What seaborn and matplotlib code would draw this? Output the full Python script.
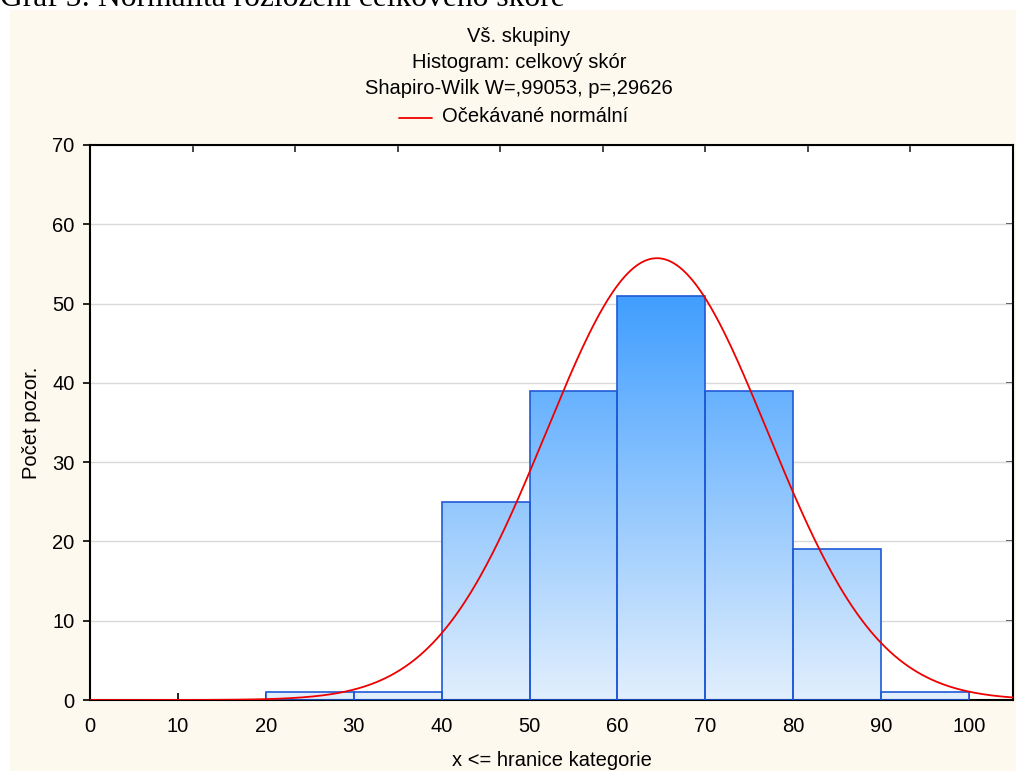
import numpy as np
import pandas as pd
import matplotlib
matplotlib.use("Agg")
import matplotlib.pyplot as plt
import seaborn as sns
from matplotlib.colors import LinearSegmentedColormap
from matplotlib.patches import Rectangle

# ---- data ----
bin_edges = [20, 30, 40, 50, 60, 70, 80, 90, 100]
counts = [1, 1, 25, 39, 51, 39, 19, 1]
x_ticks = [0, 10, 20, 30, 40, 50, 60, 70, 80, 90, 100]
y_ticks = [0, 10, 20, 30, 40, 50, 60, 70]
fit_mean = 64.5
fit_sd = 12.6
n_obs = 176
title_lines = ["Vš. skupiny", "Histogram: celkový skór", "Shapiro-Wilk W=,99053, p=,29626"]
legend_label = "Očekávané normální"
caption = "Graf 5: Normalita rozložení celkového skóre"

sns.set_theme(style="white")
plt.rcParams['font.family'] = ['Liberation Sans', 'DejaVu Sans']

FS = 14.5
W, H = 1016, 771
fig = plt.figure(figsize=(W / 100, H / 100), dpi=100, facecolor="white")
# cream panel
fig.patches.append(Rectangle((10 / W, 0), 1 - 10 / W, 1 - 10 / H, transform=fig.transFigure,
                             facecolor="#fdf9ee", edgecolor="none", zorder=-10))
fig.text(0.0, 1 - 6 / H, caption, family=["Liberation Serif"], fontsize=22.7,
         ha="left", va="baseline", color="black")

ax = fig.add_axes([90 / W, 1 - 700 / H, (1013 - 90) / W, (700 - 145) / H])
ax.set_facecolor("white")
ax.set_zorder(1)

centers = [(a + b) / 2 for a, b in zip(bin_edges[:-1], bin_edges[1:])]
df = pd.DataFrame({"x": centers, "w": counts})
sns.histplot(data=df, x="x", weights="w", bins=bin_edges, ax=ax,
             stat="count", element="bars", fill=True, edgecolor="#1f5ad6",
             linewidth=1.2, facecolor="none", zorder=3)

cmap = LinearSegmentedColormap.from_list("bl", ["#e2effd", "#409eff"])
grad = np.linspace(0, 1, 256).reshape(-1, 1)
for p in list(ax.patches):
    p.set_facecolor("none")
    p.set_zorder(4)
    im = ax.imshow(grad, cmap=cmap, origin="lower", aspect="auto",
                   extent=(0, 105, 0, max(counts)), zorder=2, interpolation="bilinear")
    im.set_clip_path(p)

xs = np.linspace(0, 105, 600)
ys = n_obs * (bin_edges[1] - bin_edges[0]) / (fit_sd * np.sqrt(2 * np.pi)) * np.exp(-0.5 * ((xs - fit_mean) / fit_sd) ** 2)
sns.lineplot(x=xs, y=ys, ax=ax, color="#ee0000", lw=1.3, zorder=5, sort=False)

ax.set_xlim(0, 105)
ax.set_ylim(0, 70)
ax.set_xticks(x_ticks)
ax.set_yticks(y_ticks)
ax.yaxis.grid(True, color="#d9d9d9", lw=1.0, zorder=0)
ax.xaxis.grid(False)
ax.set_axisbelow(True)
for s in ax.spines.values():
    s.set_color("black")
    s.set_linewidth(1.5)
    s.set_visible(True)
ax.tick_params(axis="x", direction="in", length=5, width=1.2, labelsize=FS, pad=12, colors="black",
               bottom=True, top=False)
ax.tick_params(axis="y", direction="out", length=5, width=1.2, labelsize=FS, pad=6, colors="black",
               left=True, right=False)
# top ticks (9 equal divisions) and right ticks
axt = ax.secondary_xaxis("top")
axt.set_xticks([105 / 9 * k for k in range(1, 9)])
axt.tick_params(direction="in", length=5, width=1.2, labeltop=False)
axt.spines["top"].set_visible(False)
axr = ax.secondary_yaxis("right")
axr.set_yticks(y_ticks[1:-1])
axr.tick_params(direction="in", length=5, width=1.2, labelright=False)
axr.spines["right"].set_visible(False)

ax.set_xlabel("x <= hranice kategorie", fontsize=FS, color="black", labelpad=11)
ax.set_ylabel("Počet pozor.", fontsize=FS, color="black")
ax.yaxis.set_label_coords((41 - 90) / (1013 - 90), 0.5)

cx = 519 / W
for i, t in enumerate(title_lines):
    fig.text(cx, 1 - (37 + 26 * i) / H, t, ha="center", va="center", fontsize=FS, color="black")
fig.add_artist(plt.Line2D([399 / W, 432 / W], [1 - 118 / H, 1 - 118 / H], color="#ee0000", lw=1.3,
                          transform=fig.transFigure))
fig.text(442 / W, 1 - 117 / H, legend_label, ha="left", va="center", fontsize=FS, color="black")

fig.savefig("out.png", dpi=100, facecolor=fig.get_facecolor())
